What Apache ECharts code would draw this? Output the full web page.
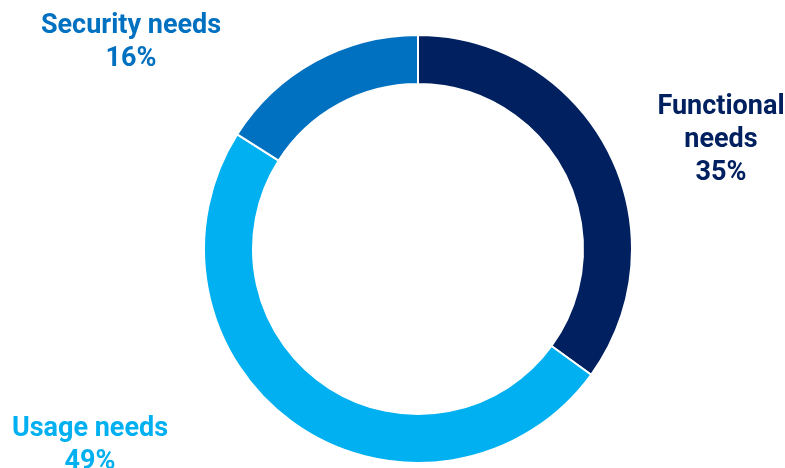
<!DOCTYPE html>
<html>
<head>
<meta charset="utf-8">
<script src="https://cdn.jsdelivr.net/npm/echarts@6/dist/echarts.min.js"></script>
<style>
  html, body { margin: 0; padding: 0; background: #ffffff; }
  #chart { width: 785px; height: 468px; }
</style>
</head>
<body>
<div id="chart"></div>
<script>
// Share of needs, listed clockwise from 12 o'clock
const categories = ['Functional\nneeds', 'Usage needs', 'Security needs'];
const shares = [35, 49, 16];
const colors = ['#002060', '#00B0F0', '#0070C0'];

// Where each label block sits (centre of the text block)
const labelSpots = [
  { x: 721, y: 140 },
  { x: 90, y: 446 },
  { x: 131, y: 43 }
];

const chart = echarts.init(document.getElementById('chart'), null, { renderer: 'canvas' });

chart.setOption({
  animation: false,
  series: [{
    type: 'pie',
    center: [418, 249],
    radius: [165, 214],
    startAngle: 90,
    clockwise: true,
    avoidLabelOverlap: false,
    itemStyle: { borderColor: '#ffffff', borderWidth: 2 },
    label: {
      show: true,
      position: 'outside',
      formatter: p => p.name + '\n' + p.value + '%',
      fontFamily: 'Roboto',
      fontWeight: 'bold',
      fontSize: 27,
      lineHeight: 33,
      align: 'center'
    },
    labelLine: { show: false },
    labelLayout: params => {
      const s = labelSpots[params.dataIndex];
      return { x: s.x, y: s.y, align: 'center', verticalAlign: 'middle' };
    },
    data: categories.map((name, i) => ({
      name,
      value: shares[i],
      itemStyle: { color: colors[i] },
      label: { color: colors[i] }
    }))
  }]
});
</script>
</body>
</html>
